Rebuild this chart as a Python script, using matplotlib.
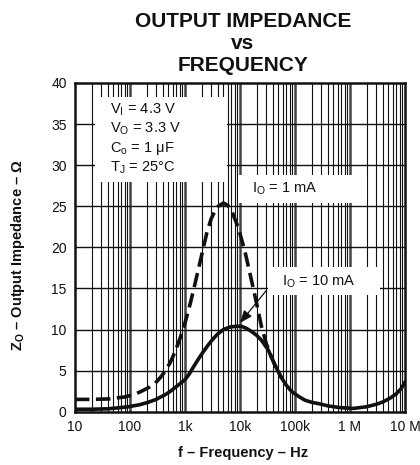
import matplotlib
matplotlib.use('Agg')
import matplotlib.pyplot as plt
from matplotlib.patches import Rectangle
from matplotlib.ticker import FixedLocator, NullFormatter

plt.rcParams['font.family'] = ['Liberation Sans', 'DejaVu Sans']
plt.rcParams['mathtext.fontset'] = 'custom'
plt.rcParams['mathtext.rm'] = 'Liberation Sans'
plt.rcParams['mathtext.bf'] = 'Liberation Sans:bold'

# ─── Data ───
# I_O = 1 mA (dashed)
freq_1ma = [10, 20, 40, 81, 120, 163, 220, 285, 350, 433, 540, 660, 800, 1000,
            1250, 1500, 2000, 2500, 3000, 3800, 5000, 6000, 7100, 9300, 12300,
            15200, 20000, 24500, 30000, 37000, 43000, 57000]
zo_1ma = [1.5, 1.5, 1.55, 1.8, 2.1, 2.5, 2.95, 3.45, 4.1, 4.9, 6.0, 7.3, 8.8, 10.8,
          13.2, 15.4, 19.0, 21.8, 23.5, 24.9, 25.4, 25.1, 24.4, 22.4, 19.5,
          16.8, 13.2, 10.4, 8.3, 6.7, 5.7, 4.1]

# I_O = 10 mA (solid)
freq_10ma = [10, 20, 40, 93, 150, 215, 300, 351, 433, 534, 650, 810, 1000, 1200,
             1410, 1750, 2150, 2700, 3270, 4000, 5000, 6500, 8700, 10500, 13000,
             16300, 20000, 24500, 32700, 43000, 57000, 70000, 87000, 120000,
             152000, 200000, 282000, 400000, 660000, 1150000, 2000000, 3000000,
             4000000, 5500000, 7000000, 8500000, 10000000]
zo_10ma = [0.3, 0.3, 0.35, 0.6, 0.85, 1.15, 1.5, 1.75, 2.05, 2.45, 2.9, 3.4, 3.9, 4.6,
           5.4, 6.4, 7.3, 8.2, 8.9, 9.5, 10.0, 10.3, 10.4, 10.4, 10.15,
           9.75, 9.3, 8.7, 7.5, 5.7, 4.1, 3.2, 2.45, 1.8,
           1.4, 1.15, 0.95, 0.7, 0.5, 0.4, 0.6, 0.9,
           1.2, 1.7, 2.2, 2.8, 3.6]

x_major = [10, 100, 1e3, 1e4, 1e5, 1e6, 1e7]
x_labels = ['10', '100', '1k', '10k', '100k', '1 M', '10 M']
y_major = [0, 5, 10, 15, 20, 25, 30, 35, 40]

ink = '#111111'

fig = plt.figure(figsize=(4.2, 4.65), dpi=100)
fig.patch.set_facecolor('white')
ax = fig.add_axes([75 / 420, 1 - 411.7 / 465, 330 / 420, 328.7 / 465])

ax.set_xscale('log')
ax.set_xlim(10, 1e7)
ax.set_ylim(0, 40)

# grid: decades heavier, minor lines thin
minor = [m * 10.0**d for d in range(1, 7) for m in range(2, 10)]
for xv in minor:
    ax.axvline(xv, color=ink, lw=0.8, zorder=1)
for xv in x_major[1:-1]:
    ax.axvline(xv, color='#444444', lw=1.8, zorder=1)
for yv in y_major[1:-1]:
    ax.axhline(yv, color=ink, lw=1.0, zorder=1)

ax.xaxis.set_major_locator(FixedLocator(x_major))
ax.set_xticklabels(x_labels)
ax.xaxis.set_minor_locator(FixedLocator(minor))
ax.xaxis.set_minor_formatter(NullFormatter())
ax.set_yticks(y_major)
ax.tick_params(axis='both', which='both', length=0, labelsize=10, colors=ink)
ax.tick_params(axis='x', pad=6)
ax.tick_params(axis='y', pad=6)
for s in ax.spines.values():
    s.set_linewidth(1.8)
    s.set_color(ink)

# white label boxes over the grid
for (x0, y0, w, h) in [(0.060, 0.700, 0.400, 0.258),
                       (0.495, 0.634, 0.389, 0.086),
                       (0.586, 0.355, 0.338, 0.086)]:
    ax.add_patch(Rectangle((x0, y0), w, h, transform=ax.transAxes,
                           facecolor='white', edgecolor='none', zorder=2))

# curves
ax.plot(freq_1ma, zo_1ma, color=ink, lw=2.6, ls=(0, (4.0, 1.8)), zorder=4,
        dash_capstyle='butt', dash_joinstyle='round')
ax.plot(freq_10ma, zo_10ma, color=ink, lw=2.6, zorder=4,
        solid_joinstyle='round')

# conditions
cond = ['V$_\\mathregular{I}$ = 4.3 V', 'V$_\\mathregular{O}$ = 3.3 V',
        'C$_\\mathregular{o}$ = 1 μF', 'T$_\\mathregular{J}$ = 25°C']
cond_y = [0.908, 0.849, 0.791, 0.730]
for t, yy in zip(cond, cond_y):
    ax.text(0.106, yy, t, transform=ax.transAxes, fontsize=10.5,
            ha='left', va='baseline', color=ink, zorder=5)

ax.text(0.535, 0.667, 'I$_\\mathregular{O}$ = 1 mA', transform=ax.transAxes,
        fontsize=10.5, ha='left', va='baseline', color=ink, zorder=5)
ax.text(0.626, 0.385, 'I$_\\mathregular{O}$ = 10 mA', transform=ax.transAxes,
        fontsize=10.5, ha='left', va='baseline', color=ink, zorder=5)
ax.annotate('', xy=(1.0e4, 10.8), xytext=(3.05e4, 14.8),
            arrowprops=dict(arrowstyle='-|>,head_width=0.3,head_length=0.75',
                            color=ink, lw=0.9, shrinkA=0, shrinkB=0), zorder=5)

# axis labels
fig.text(243 / 420, 0.017, 'f – Frequency – Hz', fontsize=10.5,
         fontweight='bold', ha='center', va='baseline', color=ink)
fig.text(0.043, 1 - 255 / 465, 'Z$_\\mathbf{O}$ – Output Impedance – Ω',
         rotation=90, fontsize=10.5, fontweight='bold', ha='center',
         va='center', color=ink)

# title
for t, yb in [('OUTPUT IMPEDANCE', 27.3), ('vs', 49.3), ('FREQUENCY', 70.7)]:
    fig.text(243 / 420, 1 - yb / 465, t, fontsize=15, fontweight='bold',
             ha='center', va='baseline', color=ink)

fig.savefig('out.png', dpi=100, facecolor='white')
